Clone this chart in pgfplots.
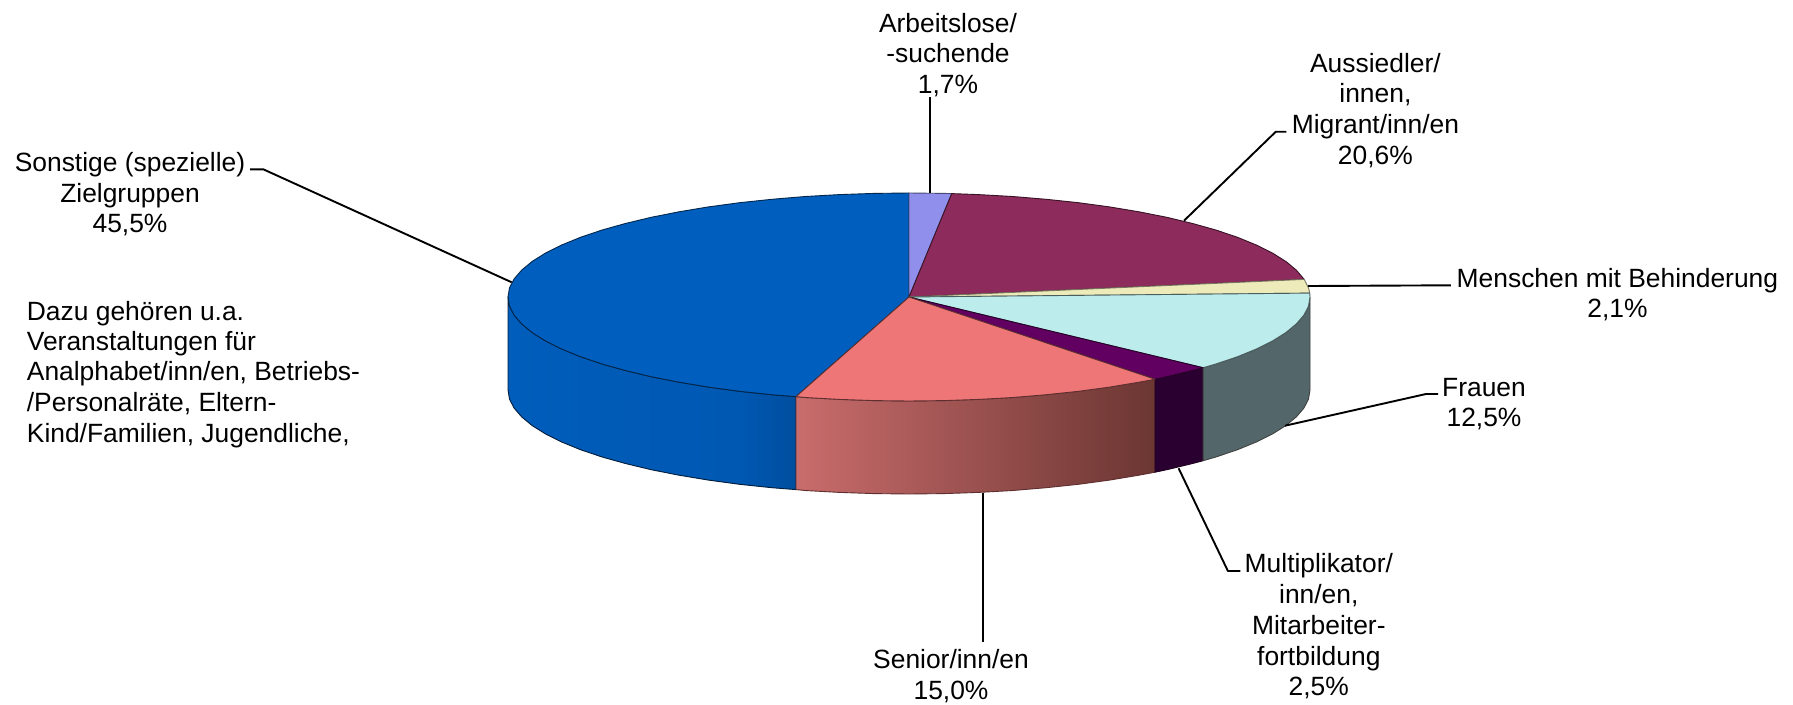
\documentclass[border=0pt]{standalone}
\usepackage{fontspec}
\setmainfont{Liberation Sans}
\usepackage{pgfplots}
\pgfplotsset{compat=1.18}
\definecolor{cBlue}{HTML}{005FBE}
\definecolor{cPeri}{HTML}{9090EC}
\definecolor{cWine}{HTML}{8D2C5C}
\definecolor{cCream}{HTML}{EEEBBB}
\definecolor{cAqua}{HTML}{BCECEC}
\definecolor{cPurple}{HTML}{620062}
\definecolor{cSalmon}{HTML}{EE7676}
\definecolor{sBlueL}{HTML}{005DBB}
\definecolor{sBlueM}{HTML}{0058B2}
\definecolor{sBlueR}{HTML}{004E9E}
\definecolor{sSalL}{HTML}{C96C6C}
\definecolor{sSalM}{HTML}{A0504E}
\definecolor{sSalR}{HTML}{6B3632}
\definecolor{sPurple}{HTML}{2A0030}
\definecolor{sAqua}{HTML}{53676A}
\newcommand{\lbl}[3]{\node[anchor=base,inner sep=0pt,yshift=-1.8pt,font=\fontsize{26.4pt}{30pt}\selectfont] at (axis cs:#1,#2) {#3};}
\newcommand{\lbll}[3]{\node[anchor=base west,inner sep=0pt,yshift=-1.8pt,font=\fontsize{26.4pt}{30pt}\selectfont] at (axis cs:#1,#2) {#3};}
\begin{document}
\begin{tikzpicture}
\begin{axis}[
  scale only axis, width=1793pt, height=704pt,
  xmin=0, xmax=1793, ymin=0, ymax=704, y dir=reverse,
  hide axis, clip=false, no markers,
  edge/.style={line width=0.9pt, line join=round},
  leader/.style={black, line width=1.9pt, line join=round},
]
\path[fill=white] (axis cs:0,0) rectangle (axis cs:1793,704);

% side walls
\addplot[draw=none, left color=sBlueL, right color=sBlueM] coordinates {
(739.5,391.3)(708.5,387.1)(679,382.2)(651.2,376.7)(625.4,370.5)(601.8,363.9)(580.5,356.7)(561.7,349)(545.6,341)(532.2,332.6)(521.7,323.9)(514.1,315.1)(509.5,306.1)(508,297)
(508,390)(509.5,399.1)(514.1,408.1)(521.7,416.9)(532.2,425.6)(545.6,434)(561.7,442)(580.5,449.7)(601.8,456.9)(625.4,463.5)(651.2,469.7)(679,475.2)(708.5,480.1)(739.5,484.3)(739.5,391.3)};
\addplot[draw=none, left color=sBlueM, right color=sBlueR] coordinates {
(796,396.6)(771.8,394.7)(739.5,391.3)(739.5,484.3)(771.8,487.7)(796,489.6)(796,396.6)};
\addplot[edge, draw=black!70!cBlue] coordinates {
(796,396.6)(771.8,394.7)(739.5,391.3)(708.5,387.1)(679,382.2)(651.2,376.7)(625.4,370.5)(601.8,363.9)(580.5,356.7)(561.7,349)(545.6,341)(532.2,332.6)(521.7,323.9)(514.1,315.1)(509.5,306.1)(508,297)
(508,390)(509.5,399.1)(514.1,408.1)(521.7,416.9)(532.2,425.6)(545.6,434)(561.7,442)(580.5,449.7)(601.8,456.9)(625.4,463.5)(651.2,469.7)(679,475.2)(708.5,480.1)(739.5,484.3)(771.8,487.7)(796,489.6)(796,396.6)};
\addplot[edge, draw=black!60!cSalmon, left color=sSalL, middle color=sSalM, right color=sSalR] coordinates {
(1155,379.2)(1139,382.2)(1109.5,387.1)(1078.5,391.3)(1046.2,394.7)(1012.8,397.5)(978.6,399.4)(944,400.6)(909,401)(874,400.6)(839.4,399.4)(805.2,397.5)(796,396.6)
(796,489.6)(805.2,490.5)(839.4,492.4)(874,493.6)(909,494)(944,493.6)(978.6,492.4)(1012.8,490.5)(1046.2,487.7)(1078.5,484.3)(1109.5,480.1)(1139,475.2)(1155,472.2)(1155,379.2)};
\addplot[edge, draw=black!70!cPurple, fill=sPurple] coordinates {
(1203.1,367.7)(1192.6,370.5)(1166.8,376.7)(1155,379.2)(1155,472.2)(1166.8,469.7)(1192.6,463.5)(1203.1,460.7)(1203.1,367.7)};
\addplot[edge, draw=black!50!gray, fill=sAqua] coordinates {
(1310,297)(1308.5,306.1)(1303.9,315.1)(1296.3,323.9)(1285.8,332.6)(1272.4,341)(1256.3,349)(1237.5,356.7)(1216.2,363.9)(1203.1,367.7)
(1203.1,460.7)(1216.2,456.9)(1237.5,449.7)(1256.3,442)(1272.4,434)(1285.8,425.6)(1296.3,416.9)(1303.9,408.1)(1308.5,399.1)(1310,390)(1310,297)};

% top slices
\addplot[edge, draw=black!60!cBlue, fill=cBlue] coordinates {
(909,297)(796,396.6)(771.8,394.7)(739.5,391.3)(708.5,387.1)(679,382.2)(651.2,376.7)(625.4,370.5)(601.8,363.9)(580.5,356.7)(561.7,349)(545.6,341)(532.2,332.6)(521.7,323.9)(514.1,315.1)(509.5,306.1)(508,297)(509.5,287.9)(514.1,278.9)(521.7,270.1)(532.2,261.4)(545.6,253)(561.7,245)(580.5,237.3)(601.8,230.1)(625.4,223.5)(651.2,217.3)(679,211.8)(708.5,206.9)(739.5,202.7)(771.8,199.3)(805.2,196.5)(839.4,194.6)(874,193.4)(909,193)(909,297)};
\addplot[edge, draw=black!50!cPeri, fill=cPeri] coordinates {
(909,297)(909,193)(944,193.4)(951.7,193.6)(909,297)};
\addplot[edge, draw=black!60!cWine, fill=cWine] coordinates {
(909,297)(951.7,193.6)(978.6,194.6)(1012.8,196.5)(1046.2,199.3)(1078.5,202.7)(1109.5,206.9)(1139,211.8)(1166.8,217.3)(1192.6,223.5)(1216.2,230.1)(1237.5,237.3)(1256.3,245)(1272.4,253)(1285.8,261.4)(1296.3,270.1)(1304.2,279.4)(909,297)};
\addplot[edge, draw=black!50!cCream, fill=cCream] coordinates {
(909,297)(1304.2,279.4)(1308.5,287.9)(1309.7,293.1)(909,297)};
\addplot[edge, draw=black!60!cAqua, fill=cAqua] coordinates {
(909,297)(1309.7,293.1)(1310,297)(1308.5,306.1)(1303.9,315.1)(1296.3,323.9)(1285.8,332.6)(1272.4,341)(1256.3,349)(1237.5,356.7)(1216.2,363.9)(1203.1,367.7)(909,297)};
\addplot[edge, draw=black!60!cPurple, fill=cPurple] coordinates {
(909,297)(1203.1,367.7)(1192.6,370.5)(1166.8,376.7)(1155,379.2)(909,297)};
\addplot[edge, draw=black!60!cSalmon, fill=cSalmon] coordinates {
(909,297)(1155,379.2)(1139,382.2)(1109.5,387.1)(1078.5,391.3)(1046.2,394.7)(1012.8,397.5)(978.6,399.4)(944,400.6)(909,401)(874,400.6)(839.4,399.4)(805.2,397.5)(796,396.6)(909,297)};

% leader lines
\addplot[leader] coordinates {(930.3,97)(930.3,193)};
\addplot[leader] coordinates {(1184,220.7)(1275.8,131.7)(1286.4,131.7)};
\addplot[leader] coordinates {(1308,286)(1450.8,285.3)};
\addplot[leader] coordinates {(1285,425.7)(1426,394)(1438,394)};
\addplot[leader] coordinates {(983,492.7)(983,641.7)};
\addplot[leader] coordinates {(1178.6,468.3)(1227.9,571)(1240.4,571)};
\addplot[leader] coordinates {(511.7,282.3)(263.3,169.3)(250,169.3)};

% labels
\lbl{948}{31}{Arbeitslose/}
\lbl{948}{61}{-suchende}
\lbl{948}{92}{1,7\%}
\lbl{1375.4}{70.7}{Aussiedler/}
\lbl{1375.4}{101}{innen,}
\lbl{1375.4}{131.7}{Migrant/inn/en}
\lbl{1375.4}{162.7}{20,6\%}
\lbl{1617.4}{285.7}{Menschen mit Behinderung}
\lbl{1617.4}{316}{2,1\%}
\lbl{1484}{394.3}{Frauen}
\lbl{1484}{425}{12,5\%}
\lbl{951}{666.7}{Senior/inn/en}
\lbl{951}{697.3}{15,0\%}
\lbl{1318.8}{570.7}{Multiplikator/}
\lbl{1318.8}{601.7}{inn/en,}
\lbl{1318.8}{632.3}{Mitarbeiter-}
\lbl{1318.8}{663.3}{fortbildung}
\lbl{1318.8}{694}{2,5\%}
\lbl{130}{170}{Sonstige (spezielle)}
\lbl{130}{201}{Zielgruppen}
\lbl{130}{231}{45,5\%}
\lbll{26.7}{318.3}{Dazu gehören u.a.}
\lbll{26.7}{348.3}{Veranstaltungen für}
\lbll{26.7}{378.7}{Analphabet/inn/en, Betriebs-}
\lbll{26.7}{409.3}{/Personalräte, Eltern-}
\lbll{26.7}{440.7}{Kind/Familien, Jugendliche,}
\end{axis}
\end{tikzpicture}
\end{document}
